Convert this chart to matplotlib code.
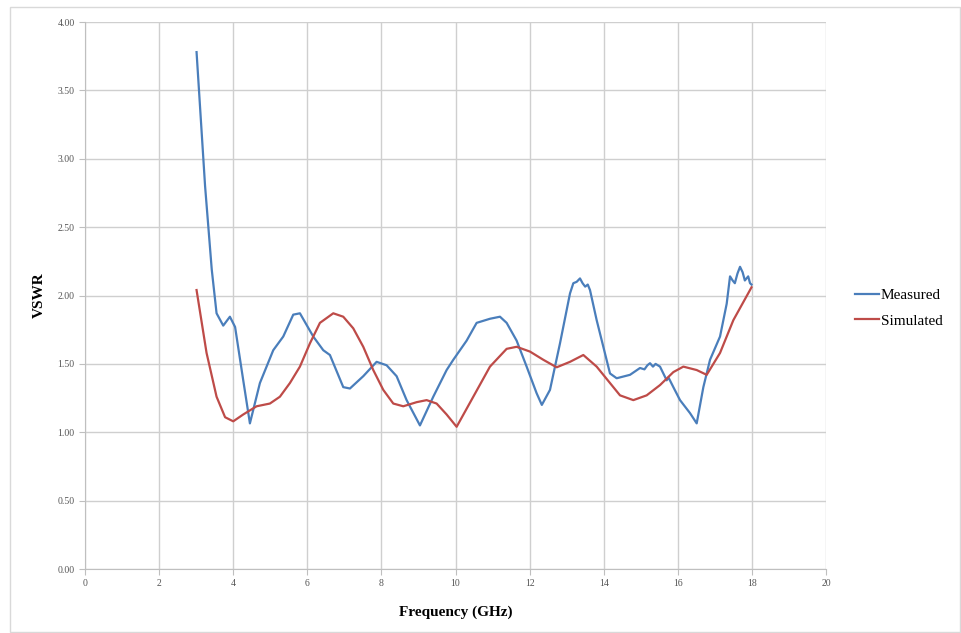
import numpy as np
import matplotlib.pyplot as plt
from matplotlib.patches import Rectangle

plt.rcParams['font.family'] = ['Liberation Serif', 'DejaVu Serif']

# dati: frequenza (GHz) e VSWR
f_meas = [3.01, 3.24, 3.42, 3.55, 3.73, 3.91, 4.05, 4.27, 4.45, 4.72, 5.08, 5.35,
          5.62, 5.80, 6.16, 6.43, 6.61, 6.97, 7.15, 7.51, 7.87, 8.14, 8.41, 8.68,
          9.04, 9.40, 9.76, 9.94, 10.30, 10.57, 10.93, 11.20, 11.38, 11.65, 11.92,
          12.19, 12.33, 12.55, 12.82, 13.09, 13.18, 13.27, 13.36, 13.43, 13.50, 13.57,
          13.63, 13.81, 13.99, 14.17, 14.35, 14.71, 14.98, 15.10, 15.18, 15.25, 15.33,
          15.40, 15.52, 15.70, 15.75, 15.88, 16.06, 16.33, 16.51, 16.69, 16.87, 17.14,
          17.32, 17.41, 17.48, 17.54, 17.61, 17.68, 17.75, 17.81, 17.90, 17.95, 17.99]
v_meas = [3.78, 2.80, 2.19, 1.87, 1.78, 1.845, 1.77, 1.38, 1.065, 1.36, 1.60, 1.70,
          1.86, 1.87, 1.70, 1.60, 1.565, 1.33, 1.32, 1.41, 1.515, 1.49, 1.41, 1.235,
          1.05, 1.26, 1.455, 1.53, 1.67, 1.80, 1.83, 1.845, 1.80, 1.67, 1.48,
          1.285, 1.20, 1.31, 1.65, 2.015, 2.09, 2.10, 2.125, 2.09, 2.065, 2.08,
          2.04, 1.82, 1.625, 1.43, 1.395, 1.42, 1.47, 1.46, 1.49, 1.505, 1.48,
          1.50, 1.48, 1.38, 1.40, 1.33, 1.235, 1.14, 1.065, 1.33, 1.53, 1.70,
          1.94, 2.14, 2.11, 2.09, 2.16, 2.21, 2.17, 2.11, 2.14, 2.09, 2.08]

f_sim = [3.01, 3.28, 3.55, 3.78, 4.00, 4.27, 4.63, 4.99, 5.26, 5.53, 5.80, 6.07,
         6.34, 6.70, 6.97, 7.24, 7.51, 7.78, 8.05, 8.32, 8.59, 8.95, 9.22, 9.49,
         9.76, 10.03, 10.48, 10.93, 11.38, 11.65, 12.01, 12.37, 12.73, 13.09, 13.45,
         13.81, 14.17, 14.44, 14.80, 15.16, 15.52, 15.88, 16.15, 16.51, 16.78, 17.14,
         17.50, 17.99]
v_sim = [2.04, 1.58, 1.26, 1.11, 1.08, 1.13, 1.19, 1.21, 1.26, 1.36, 1.48, 1.65,
         1.80, 1.87, 1.845, 1.76, 1.625, 1.455, 1.31, 1.21, 1.19, 1.22, 1.235, 1.21,
         1.13, 1.04, 1.26, 1.48, 1.61, 1.625, 1.59, 1.53, 1.475, 1.515, 1.565,
         1.48, 1.36, 1.27, 1.235, 1.27, 1.345, 1.44, 1.48, 1.455, 1.42, 1.58,
         1.82, 2.06]

fig = plt.figure(figsize=(9.61, 6.33), dpi=100)
fig.patches.append(Rectangle((0.010, 0.002), 0.989, 0.987, transform=fig.transFigure,
                             fill=False, edgecolor='#d9d9d9', lw=1))
ax = fig.add_axes([0.0885, 0.1011, 0.771, 0.8641])

ax.plot(f_meas, v_meas, color='#4A7EBB', lw=1.6, label='Measured')
ax.plot(f_sim, v_sim, color='#BE4B48', lw=1.6, label='Simulated')

ax.set_xlim(0, 20)
ax.set_ylim(0, 4)
ax.set_xticks(np.arange(0, 21, 2))
ax.set_yticks(np.arange(0, 4.01, 0.5))
ax.set_yticklabels(['%.2f' % t for t in np.arange(0, 4.01, 0.5)])
ax.grid(True, color='#cfcfcf', lw=1)
ax.set_axisbelow(True)
for s in ['top', 'right']:
    ax.spines[s].set_visible(False)
for s in ['left', 'bottom']:
    ax.spines[s].set_color('#bfbfbf')
ax.tick_params(colors='#bfbfbf', labelcolor='#555555', labelsize=7, length=4, direction='out')

ax.set_xlabel('Frequency (GHz)', fontsize=11, fontweight='bold', labelpad=12)
ax.set_ylabel('VSWR', fontsize=11, fontweight='bold', labelpad=8)

ax.legend(loc='center left', bbox_to_anchor=(1.02, 0.477), frameon=False,
          fontsize=11, handlelength=1.6, handletextpad=0.1, labelspacing=0.75)

plt.savefig('out.png', dpi=100)
